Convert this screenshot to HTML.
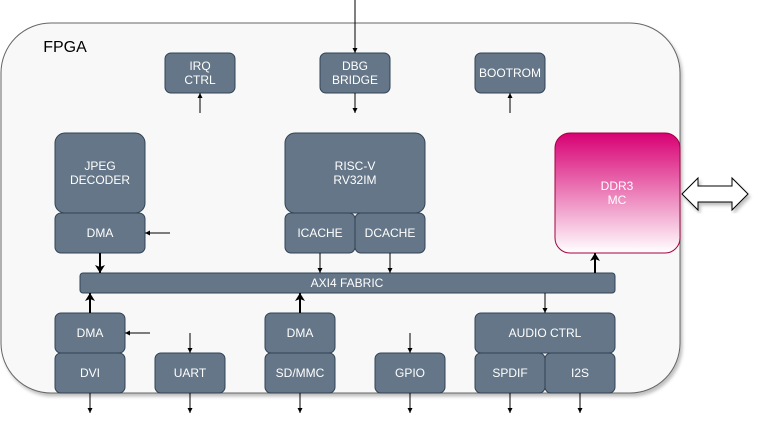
<!DOCTYPE html>
<html><head><style>body{margin:0;background:#fff}svg{display:block}text{font-family:"Liberation Sans",sans-serif;font-size:12px;fill:#fff;text-anchor:middle}</style></head><body>
<svg width="762" height="430" viewBox="0 0 762 430" xmlns="http://www.w3.org/2000/svg">
<defs>
<linearGradient id="g" x1="0" y1="0" x2="0" y2="1"><stop offset="0" stop-color="#d80073"/><stop offset="1" stop-color="#fff"/></linearGradient>
<marker id="a" markerWidth="6" markerHeight="6" refX="5" refY="3" orient="auto" markerUnits="userSpaceOnUse"><path d="M0,0.5 L5,3 L0,5.5 Z" fill="#000"/></marker>
<marker id="b" markerWidth="10" markerHeight="10" refX="8" refY="5" orient="auto" markerUnits="userSpaceOnUse"><path d="M0,0 L8,5 L0,10 L2,5 Z" fill="#000"/></marker>
<filter id="s"><feDropShadow dx="2" dy="3" stdDeviation="1.5" flood-opacity="0.25"/></filter>
</defs>
<rect x="1" y="23" width="679" height="370" rx="50" fill="#f8f8f8" stroke="#666" filter="url(#s)"/>
<text x="65" y="52" style="font-size:16px;fill:#000">FPGA</text>
<g fill="#647687" stroke="#314354">
<rect x="165" y="53" width="70" height="40" rx="6"/>
<rect x="320" y="53" width="70" height="40" rx="6"/>
<rect x="475" y="53" width="70" height="40" rx="6"/>
<rect x="55" y="133" width="90" height="80" rx="10"/>
<rect x="55" y="213" width="90" height="40" rx="6"/>
<rect x="285" y="133" width="140" height="80" rx="10"/>
<rect x="285" y="213" width="70" height="40" rx="6"/>
<rect x="355" y="213" width="70" height="40" rx="6"/>
<rect x="80" y="273" width="535" height="20" rx="3"/>
<rect x="55" y="313" width="70" height="40" rx="6"/>
<rect x="55" y="353" width="70" height="40" rx="6"/>
<rect x="155" y="353" width="70" height="40" rx="6"/>
<rect x="265" y="313" width="70" height="40" rx="6"/>
<rect x="265" y="353" width="70" height="40" rx="6"/>
<rect x="375" y="353" width="70" height="40" rx="6"/>
<rect x="475" y="313" width="140" height="40" rx="6"/>
<rect x="475" y="353" width="70" height="40" rx="6"/>
<rect x="545" y="353" width="70" height="40" rx="6"/>
</g>
<rect x="555" y="133" width="125" height="120" rx="15" fill="url(#g)" stroke="#a50040"/>
<path d="M682,194 L698,178 L698,186 L732,186 L732,178 L748,194 L732,210 L732,202 L698,202 L698,210 Z" fill="#fff" stroke="#000" filter="url(#s)"/>
<text x="200" y="70">IRQ</text><text x="200" y="84">CTRL</text>
<text x="355" y="70">DBG</text><text x="355" y="84">BRIDGE</text>
<text x="510" y="77">BOOTROM</text>
<text x="100" y="170">JPEG</text><text x="100" y="184">DECODER</text>
<text x="100" y="237">DMA</text>
<text x="355" y="170">RISC-V</text><text x="355" y="184">RV32IM</text>
<text x="320" y="237">ICACHE</text><text x="390" y="237">DCACHE</text>
<text x="617" y="190">DDR3</text><text x="617" y="204">MC</text>
<text x="347" y="287">AXI4 FABRIC</text>
<text x="90" y="337">DMA</text><text x="90" y="377">DVI</text>
<text x="190" y="377">UART</text>
<text x="300" y="337">DMA</text><text x="300" y="377">SD/MMC</text>
<text x="410" y="377">GPIO</text>
<text x="545" y="337">AUDIO CTRL</text>
<text x="510" y="377">SPDIF</text><text x="580" y="377">I2S</text>
<g stroke="#000" fill="none">
<path d="M355,0 V53" marker-end="url(#a)"/>
<path d="M355,93 V113" marker-end="url(#a)"/>
<path d="M200,113 V93" marker-end="url(#a)"/>
<path d="M510,113 V93" marker-end="url(#a)"/>
<path d="M170,233 H145" marker-end="url(#a)"/>
<path d="M320,253 V273" marker-end="url(#a)"/>
<path d="M390,253 V273" marker-end="url(#a)"/>
<path d="M545,293 V313" marker-end="url(#a)"/>
<path d="M150,333 H125" marker-end="url(#a)"/>
<path d="M190,333 V353" marker-end="url(#a)"/>
<path d="M410,333 V353" marker-end="url(#a)"/>
<path d="M90,393 V413" marker-end="url(#a)"/>
<path d="M190,393 V413" marker-end="url(#a)"/>
<path d="M300,393 V413" marker-end="url(#a)"/>
<path d="M410,393 V413" marker-end="url(#a)"/>
<path d="M510,393 V413" marker-end="url(#a)"/>
<path d="M580,393 V413" marker-end="url(#a)"/>
<g stroke-width="2">
<path d="M100,253 V273" marker-end="url(#b)"/>
<path d="M90,313 V293" marker-end="url(#b)"/>
<path d="M300,313 V293" marker-end="url(#b)"/>
<path d="M595,273 V253" marker-end="url(#b)"/>
</g>
</g>
</svg>
</body></html>
